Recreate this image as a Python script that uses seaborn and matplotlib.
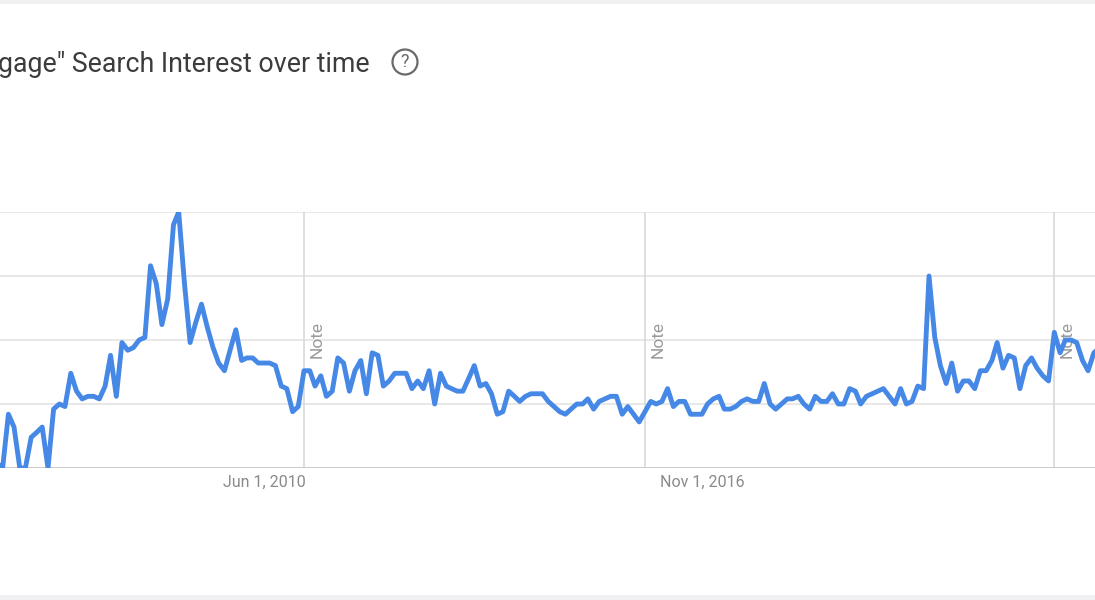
import pandas as pd
import seaborn as sns
import matplotlib.pyplot as plt
from matplotlib.patches import Ellipse, Rectangle

# monthly search interest, Jul 2006 - Sep 2022
start_month = '2006-07-01'
interest_2006 = [2, 0, 21, 16, 0, 0]
interest_2007 = [12, 14, 16, 0, 23, 25, 24, 37, 30, 27, 28, 28]
interest_2008 = [27, 32, 44, 28, 49, 46, 47, 50, 51, 79, 72, 56]
interest_2009 = [66, 95, 100, 72, 49, 57, 64, 55, 47, 41, 38, 46]
interest_2010 = [54, 42, 43, 43, 41, 41, 41, 40, 32, 31, 22, 24]
interest_2011 = [38, 38, 32, 36, 28, 30, 43, 41, 30, 38, 42, 29]
interest_2012 = [45, 44, 32, 34, 37, 37, 37, 31, 34, 31, 38, 25]
interest_2013 = [37, 32, 31, 30, 30, 35, 40, 32, 33, 29, 21, 22]
interest_2014 = [30, 28, 26, 28, 29, 29, 29, 26, 24, 22, 21, 23]
interest_2015 = [25, 25, 27, 23, 26, 27, 28, 28, 21, 24, 21, 18]
interest_2016 = [22, 26, 25, 26, 31, 24, 26, 26, 21, 21, 21, 25]
interest_2017 = [27, 28, 23, 23, 24, 26, 27, 26, 26, 33, 25, 23]
interest_2018 = [25, 27, 27, 28, 25, 23, 28, 26, 26, 29, 25, 25]
interest_2019 = [31, 30, 25, 28, 29, 30, 31, 28, 25, 31, 25, 26]
interest_2020 = [32, 31, 75, 51, 40, 33, 41, 30, 34, 34, 31, 38]
interest_2021 = [38, 42, 49, 39, 44, 43, 31, 40, 43, 39, 36, 34]
interest_2022 = [53, 45, 50, 50, 49, 42, 38, 45, 47]

tick_dates = ['2010-06-01', '2016-11-01']
tick_labels = ['Jun 1, 2010', 'Nov 1, 2016']
note_dates = ['2011-01-01', '2016-01-01', '2022-01-01']
title_text = 'gage" Search Interest over time'

values = (interest_2006 + interest_2007 + interest_2008 + interest_2009 + interest_2010
          + interest_2011 + interest_2012 + interest_2013 + interest_2014 + interest_2015
          + interest_2016 + interest_2017 + interest_2018 + interest_2019 + interest_2020
          + interest_2021 + interest_2022)
trend = pd.DataFrame({'month': pd.date_range(start_month, periods=len(values), freq='MS'),
                      'interest': values})

sns.set_style('white')
plt.rcParams['font.family'] = ['Roboto', 'DejaVu Sans']

fig = plt.figure(figsize=(10.95, 6), dpi=100)
ax = fig.add_axes([0, 0.22, 1, 256 / 600])

for level in [25, 50, 75, 100]:
    ax.axhline(level, color='#e4e4e4', lw=1.2, zorder=0)
ax.axhline(0, color='#c6c6c6', lw=2, zorder=1)

for d in note_dates:
    ax.axvline(pd.Timestamp(d), color='#d6d6d6', lw=1.1, zorder=0)
    ax.annotate('Note', xy=(pd.Timestamp(d), 50), xytext=(4, 0), textcoords='offset points',
                rotation=90, ha='left', va='center', fontsize=12.5, color='#9a9a9a', zorder=1)

sns.lineplot(data=trend, x='month', y='interest', color='#4688e6', linewidth=3.5, ax=ax, zorder=3)

ax.set_xlim(pd.Timestamp('2006-07-18'), pd.Timestamp('2022-08-07'))
ax.set_ylim(0, 100)
ax.set_xticks([pd.Timestamp(d) for d in tick_dates])
ax.set_xticklabels(tick_labels, fontsize=11.5, color='#8a8a8a')
ax.tick_params(axis='x', length=0, pad=5)
ax.set_yticks([])
ax.set_xlabel('')
ax.set_ylabel('')
sns.despine(ax=ax, left=True, bottom=True)

fig.text(370 / 1095, 1 - 64 / 600, title_text, ha='right', va='center', fontsize=19.3, color='#3c3c3c')
fig.add_artist(Ellipse((405 / 1095, 1 - 62 / 600), 25 / 1095, 25 / 600, transform=fig.transFigure,
                       fill=False, edgecolor='#6a6a6a', lw=1.6))
fig.text(405 / 1095, 1 - 62 / 600, '?', ha='center', va='center', fontsize=13, color='#6a6a6a')

fig.add_artist(Rectangle((0, 1 - 4 / 600), 1, 4 / 600, transform=fig.transFigure,
                         color='#f0f0f2', lw=0))
fig.add_artist(Rectangle((0, 0), 1, 5 / 600, transform=fig.transFigure,
                         color='#f0f0f2', lw=0))

plt.savefig('out.png', dpi=100)
